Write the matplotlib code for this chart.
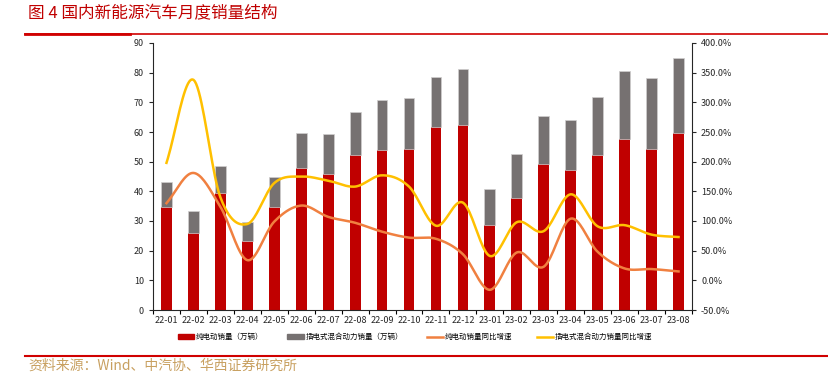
import numpy as np
import matplotlib.pyplot as plt
from matplotlib.patches import Patch
from matplotlib.lines import Line2D

plt.rcParams['font.family'] = ['Noto Sans CJK SC', 'DejaVu Sans']

months = ['22-01', '22-02', '22-03', '22-04', '22-05', '22-06', '22-07', '22-08', '22-09', '22-10',
          '22-11', '22-12', '23-01', '23-02', '23-03', '23-04', '23-05', '23-06', '23-07', '23-08']
bev = [34.7, 25.9, 39.6, 23.2, 34.7, 47.7, 45.9, 52.2, 54.0, 54.3,
       61.7, 62.5, 28.7, 37.6, 49.2, 47.1, 52.4, 57.5, 54.3, 59.8]
phev = [8.4, 7.4, 8.9, 6.5, 10.1, 12.0, 13.4, 14.6, 16.9, 17.2,
        17.0, 18.9, 12.1, 15.0, 16.2, 16.8, 19.3, 23.1, 24.0, 25.0]
bev_yoy = [130, 181, 124, 34, 99, 126, 107, 97, 82, 72,
           70, 44, -16, 47, 23, 104, 48, 20, 19, 15]
phev_yoy = [198, 338, 140, 95, 164, 175, 168, 158, 177, 158,
            92, 131, 41, 98, 83, 145, 91, 93, 77, 73]


def smooth(x, y, n=20):
    # catmull-rom curve through the points, like excel's smoothed line
    x = np.asarray(x, float)
    y = np.asarray(y, float)
    px = np.concatenate([[2 * x[0] - x[1]], x, [2 * x[-1] - x[-2]]])
    py = np.concatenate([[2 * y[0] - y[1]], y, [2 * y[-1] - y[-2]]])
    xs, ys = [], []
    t = np.linspace(0, 1, n, endpoint=False)
    for i in range(1, len(px) - 2):
        for p, out in ((px, xs), (py, ys)):
            p0, p1, p2, p3 = p[i - 1], p[i], p[i + 1], p[i + 2]
            out.extend(0.5 * (2 * p1 + (-p0 + p2) * t + (2 * p0 - 5 * p1 + 4 * p2 - p3) * t ** 2
                              + (-p0 + 3 * p1 - 3 * p2 + p3) * t ** 3))
    xs.append(x[-1])
    ys.append(y[-1])
    return np.array(xs), np.array(ys)


red = '#c00000'
gray = '#767171'
orange = '#f08040'
yellow = '#ffc000'

fig = plt.figure(figsize=(8.29, 3.76), dpi=100)
ax = fig.add_axes([153 / 829, 1 - 310 / 376, 539 / 829, 267 / 376])
x = np.arange(len(months))

ax.bar(x, bev, 0.4, color=red, zorder=2)
ax.bar(x, phev, 0.4, bottom=bev, color=gray, edgecolor='#d0cece', linewidth=0.5, zorder=2)
ax.set_xlim(-0.5, len(months) - 0.5)
ax.set_ylim(0, 90)
ax.set_yticks(range(0, 91, 10))
ax.set_xticks(x)
ax.set_xticklabels(months)
ax.set_xticks(np.arange(-0.5, len(months), 1), minor=True)
ax.tick_params(axis='x', which='major', length=0, labelsize=6.5, pad=4, colors='#262626')
ax.tick_params(axis='x', which='minor', length=3, width=0.8)
ax.tick_params(axis='y', labelsize=6.5, length=3, width=0.8, colors='#262626')
for s in ['top', 'right']:
    ax.spines[s].set_visible(False)
for s in ['left', 'bottom']:
    ax.spines[s].set_color('#262626')
    ax.spines[s].set_linewidth(0.8)

ax2 = ax.twinx()
ax2.set_ylim(-50, 400)
ax2.set_yticks(range(-50, 401, 50))
ax2.set_yticklabels(['%.1f%%' % v for v in range(-50, 401, 50)])
ax2.tick_params(axis='y', labelsize=6.5, length=3, width=0.8, colors='#262626')
for s in ['top', 'left', 'bottom']:
    ax2.spines[s].set_visible(False)
ax2.spines['right'].set_color('#262626')
ax2.spines['right'].set_linewidth(0.8)

sx, sy = smooth(x, bev_yoy)
ax2.plot(sx, sy, color=orange, lw=1.8, zorder=3)
sx, sy = smooth(x, phev_yoy)
ax2.plot(sx, sy, color=yellow, lw=1.8, zorder=3)

handles = [Patch(color=red), Patch(color=gray),
           Line2D([], [], color=orange, lw=1.8), Line2D([], [], color=yellow, lw=1.8)]
labels = ['纯电动销量（万辆）', '插电式混合动力销量（万辆）', '纯电动销量同比增速', '插电式混合动力销量同比增速']
fig.legend(handles, labels, loc='center', bbox_to_anchor=(415 / 829, 1 - 337 / 376), ncol=4,
           frameon=False, fontsize=5.4, handlelength=2.2, handleheight=0.55, columnspacing=3.2,
           handletextpad=0.2)

fig.text(28 / 829, 1 - 14 / 376, '图 4 国内新能源汽车月度销量结构', fontsize=12, color='#c00000',
         va='center', ha='left')
fig.add_artist(Line2D([25 / 829, 1], [1 - 34 / 376] * 2, color='#d00000', lw=1.2))
fig.add_artist(Line2D([25 / 829, 130 / 829], [1 - 34 / 376] * 2, color='#d00000', lw=2.0))
fig.add_artist(Line2D([25 / 829, 1], [1 - 356 / 376] * 2, color='#d00000', lw=1.5))
fig.text(28 / 829, 1 - 366 / 376, '资料来源：Wind、中汽协、华西证券研究所', fontsize=10, color='#c8a060',
         va='center', ha='left')

fig.savefig('out.png', dpi=100)
